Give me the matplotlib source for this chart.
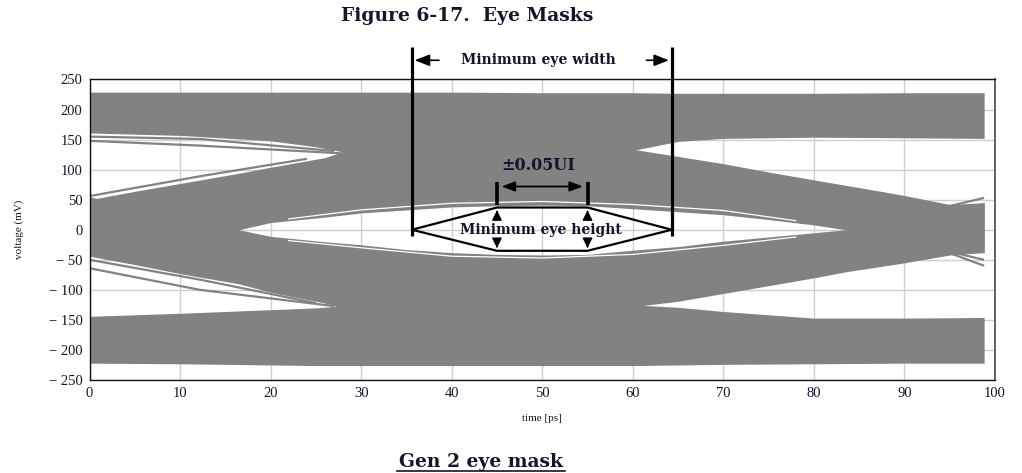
import matplotlib
matplotlib.use("Agg")
import matplotlib.pyplot as plt
from matplotlib.patches import Polygon

# ---------------- data ----------------
# time axis key points (ps)
t_rail = [0, 10, 20, 25, 30, 40, 50, 60, 65, 70, 80, 90, 98.8]
top_rail_hi = [229, 229, 229, 229, 229, 229, 228, 228, 227, 227, 227, 228, 228]
top_rail_lo = [161, 157, 148, 138, 124, 124, 124, 132, 147, 152, 154, 153, 152]
bot_rail_hi = [-144, -139, -133, -130, -124, -124, -124, -125, -129, -136, -147, -147, -146]
bot_rail_lo = [-222, -223, -225, -226, -226, -226, -226, -226, -225, -224, -223, -222, -222]

t_mid = [0, 5, 10, 16.5, 20, 26, 30, 35, 40, 45, 50, 55, 60, 65, 70, 75, 80, 83.5, 87, 90, 95, 98.8]
# bundle that crosses at t=0 upward and falls at t=100 (upper half of the eye)
upper_lo = [-42, -29, -17, 0, 12, 21, 28, 33, 38, 40, 41, 40, 35, 30, 25, 17, 8, 0, -12, -20, -32, -38]
upper_hi = [50, 64, 77, 94, 104, 120, 140, 140, 140, 140, 140, 140, 134, 122, 110, 96, 83, 74, 65, 57, 42, 45]
# bundle that crosses at t=0 downward and rises at t=100 (lower half of the eye)
lower_hi = [55, 38, 21, 0, -11, -20, -25, -33, -38, -41, -42, -41, -34, -28, -19, -12, -5, 0, 13, 22, 37, 45]
lower_lo = [-44, -58, -73, -90, -104, -122, -140, -140, -140, -140, -140, -140, -128, -119, -106, -93, -80, -70, -62, -55, -42, -38]

# single stray traces
stray_ul_t, stray_ul_v = [0, 12.2, 24], [56, 89, 118]
stray_ll1_t, stray_ll1_v = [0, 12.2, 25], [-50, -83, -122]
stray_ll2_t, stray_ll2_v = [0, 12.2, 27], [-64, -100, -127]
stray_tl1_t, stray_tl1_v = [0, 12.2, 27], [155, 151, 131]
stray_tl2_t, stray_tl2_v = [0, 12.2, 28], [148, 140, 127]
stray_r1_t, stray_r1_v = [94, 98.8], [36, 53]
stray_r2_t, stray_r2_v = [95.4, 98.8], [-38, -50]
stray_r3_t, stray_r3_v = [94.5, 98.8], [-36, -60]

# thin white gaps along the eye opening
eye_gap_t = [22, 30, 40, 50, 60, 70, 78]
eye_gap_top = [18, 33, 44, 47, 42, 32, 15]
eye_gap_bot = [-18, -30, -44, -47, -41, -26, -12]

# mask geometry (ps, mV)
mask_t = [35.6, 45, 55, 64.3, 55, 45]
mask_v = [0, 37, 37, 0, -35, -35]
width_left, width_right = 35.6, 64.3
ui_left, ui_right = 45, 55

x_ticks = [0, 10, 20, 30, 40, 50, 60, 70, 80, 90, 100]
y_ticks = [250, 200, 150, 100, 50, 0, -50, -100, -150, -200, -250]
y_tick_labels = ["250", "200", "150", "100", "50", "0", "\u2212 50", "\u2212 100",
                 "\u2212 150", "\u2212 200", "\u2212 250"]

# ---------------- drawing ----------------
GRAY = "#828282"
INK = "#15152a"
SERIF = ["Liberation Serif", "DejaVu Serif"]
BSERIF = ["DejaVu Serif"]

fig = plt.figure(figsize=(10.22, 4.73), dpi=100)
ax = fig.add_axes([89.5 / 1022, 1 - 380 / 473, (995 - 89.5) / 1022, (380 - 79.5) / 473])
ax.set_xlim(0, 100)
ax.set_ylim(-250, 250)

ax.set_xticks(x_ticks)
ax.set_yticks(y_ticks)
ax.set_yticklabels(y_tick_labels)
ax.grid(True, color="#cfcfcf", lw=1.0)
ax.set_axisbelow(True)
ax.tick_params(length=0, pad=5, labelsize=10.5, labelcolor=INK)
for lab in ax.get_xticklabels() + ax.get_yticklabels():
    lab.set_family(SERIF)
for s in ["left", "bottom", "top"]:
    ax.spines[s].set_color("#111111")
    ax.spines[s].set_linewidth(1.0)
ax.spines["right"].set_color("#555555")
ax.spines["right"].set_linewidth(1.3)

# eye diagram bands
ax.fill_between(t_rail, top_rail_lo, top_rail_hi, color=GRAY, lw=0, zorder=2)
ax.fill_between(t_rail, bot_rail_lo, bot_rail_hi, color=GRAY, lw=0, zorder=2)
ax.fill_between(t_mid, upper_lo, upper_hi, color=GRAY, lw=0, zorder=2)
ax.fill_between(t_mid, lower_lo, lower_hi, color=GRAY, lw=0, zorder=2)

for tt, vv in [(stray_ul_t, stray_ul_v), (stray_ll1_t, stray_ll1_v), (stray_ll2_t, stray_ll2_v),
               (stray_tl1_t, stray_tl1_v), (stray_tl2_t, stray_tl2_v),
               (stray_r1_t, stray_r1_v), (stray_r2_t, stray_r2_v), (stray_r3_t, stray_r3_v)]:
    ax.plot(tt, vv, color=GRAY, lw=1.6, zorder=2, solid_capstyle="butt")

ax.plot(eye_gap_t, eye_gap_top, color="white", lw=0.9, zorder=2.5)
ax.plot(eye_gap_t, eye_gap_bot, color="white", lw=0.9, zorder=2.5)

# ---------------- mask annotations ----------------
ax.add_patch(Polygon(list(zip(mask_t, mask_v)), closed=True, fill=False,
                     edgecolor="black", lw=1.6, zorder=5))

y_top = (230 - 48) / 0.6
for xv in (width_left, width_right):
    ax.plot([xv, xv], [-11, y_top], color="black", lw=2.3, zorder=6, clip_on=False,
            solid_capstyle="butt")

y_w = 282
ax.annotate("", xy=(width_left, y_w), xytext=(38.9, y_w),
            arrowprops=dict(arrowstyle="-|>,head_length=0.9,head_width=0.35", color="black", lw=1.2),
            annotation_clip=False, zorder=6)
ax.annotate("", xy=(width_right, y_w), xytext=(61.2, y_w),
            arrowprops=dict(arrowstyle="-|>,head_length=0.9,head_width=0.35", color="black", lw=1.2),
            annotation_clip=False, zorder=6)
ax.text(49.6, y_w, "Minimum eye width", ha="center", va="center", fontsize=10,
        fontweight="bold", family=BSERIF, color=INK, clip_on=False, zorder=6)

for xv in (ui_left, ui_right):
    ax.plot([xv, xv], [41, 79], color="black", lw=2.6, zorder=6, solid_capstyle="butt")
ax.annotate("", xy=(ui_left + 0.2, 72), xytext=(ui_right - 0.2, 72),
            arrowprops=dict(arrowstyle="<|-|>,head_length=0.8,head_width=0.3", color="black", lw=1.3),
            zorder=6)
ax.text(49.6, 107, "\u00b10.05UI", ha="center", va="center", fontsize=11.5,
        fontweight="bold", family=BSERIF, color=INK, zorder=6)

for xv in (ui_left, ui_right):
    ax.annotate("", xy=(xv, 37), xytext=(xv, 24),
                arrowprops=dict(arrowstyle="-|>,head_length=0.6,head_width=0.3", color="black", lw=1.0),
                zorder=6)
    ax.annotate("", xy=(xv, -35), xytext=(xv, -22),
                arrowprops=dict(arrowstyle="-|>,head_length=0.6,head_width=0.3", color="black", lw=1.0),
                zorder=6)
ax.text(49.9, 0, "Minimum eye height", ha="center", va="center", fontsize=10,
        fontweight="bold", family=BSERIF, color=INK, zorder=7)

# axis labels
ax.set_xlabel("time [ps]", fontsize=8, family=SERIF, color=INK, labelpad=10)
ax.set_ylabel("voltage (mV)", fontsize=8, family=SERIF, color=INK, labelpad=18)

# titles
fig.text(467 / 1022, 1 - 16 / 473, "Figure 6-17.  Eye Masks", ha="center", va="center",
         fontsize=13.5, fontweight="bold", family=BSERIF, color=INK)
fig.text(481 / 1022, 1 - 462 / 473, "Gen 2 eye mask", ha="center", va="center",
         fontsize=13.5, fontweight="bold", family=BSERIF, color=INK)
fig.add_artist(plt.Line2D([397 / 1022, 565 / 1022], [1 - 471 / 473, 1 - 471 / 473],
                          color=INK, lw=1.2))

fig.savefig("out.png", dpi=100, facecolor="white")
